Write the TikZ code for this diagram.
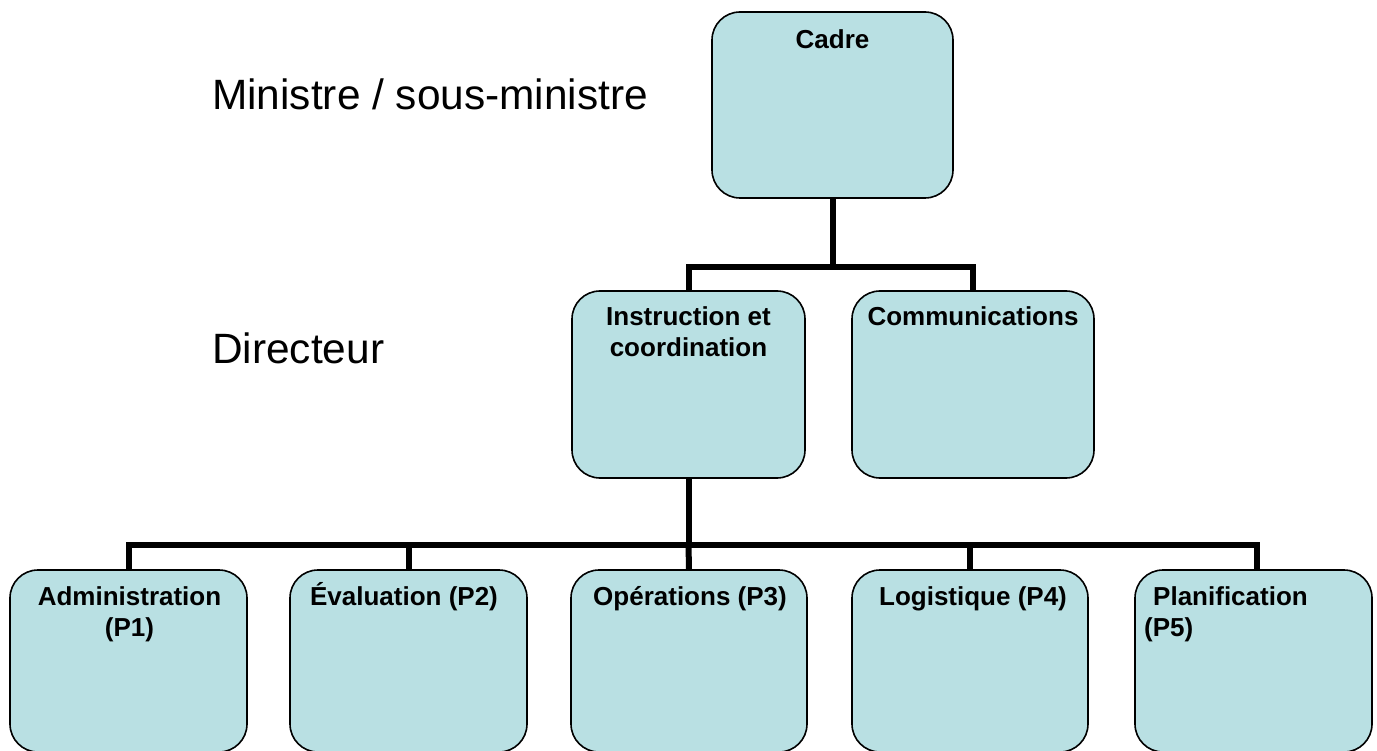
\documentclass[tikz,border=0pt]{standalone}
\usepackage{fontspec}
\setmainfont{Liberation Sans}
\definecolor{boxfill}{RGB}{185,224,227}
\begin{document}
\begin{tikzpicture}[x=1pt,y=-1pt,
  orgbox/.style={draw=black,line width=1.6pt,fill=boxfill,rounded corners=28pt,inner sep=0pt,rectangle},
  boxtext/.style={font=\bfseries\fontsize{26}{31}\selectfont,align=center,anchor=base,inner sep=0pt},
  leveltext/.style={font=\fontsize{42.4}{50}\selectfont,anchor=base west,inner sep=0pt},
  conn/.style={draw=black,line width=6pt}]
\useasboundingbox (0,0) rectangle (1377,751);
% boxes
\node[orgbox,minimum width=241pt,minimum height=186pt] (cadre) at (832.5,105) {};
\node[orgbox,minimum width=233pt,minimum height=187pt] (instr) at (688.5,384.5) {};
\node[orgbox,minimum width=242pt,minimum height=187pt] (comm) at (973,384.5) {};
\node[orgbox,minimum width=237pt,minimum height=182pt] (p1) at (128.5,661) {};
\node[orgbox,minimum width=237pt,minimum height=182pt] (p2) at (408.5,661) {};
\node[orgbox,minimum width=236pt,minimum height=182pt] (p3) at (689,661) {};
\node[orgbox,minimum width=236pt,minimum height=182pt] (p4) at (970,661) {};
\node[orgbox,minimum width=237pt,minimum height=182pt] (p5) at (1253.5,661) {};
% texts (multi-line nodes: base anchor is on the last line)
\node[boxtext] (tcadre) at (832.5,49) {Cadre};
\node[boxtext] (tinstr) at (688.5,357) {Instruction et\\coordination};
\node[boxtext] (tcomm) at (973,326) {Communications};
\node[boxtext] (tp1) at (129.5,636) {Administration\\(P1)};
\node[boxtext] (tp2) at (404,605) {Évaluation (P2)};
\node[boxtext] (tp3) at (690,605) {Opérations (P3)};
\node[boxtext] (tp4) at (973,605) {Logistique (P4)};
\node[boxtext,anchor=base west,align=left] (tp5) at (1144,636) {\hspace{9pt}Planification\\(P5)};
\node[leveltext] (lmin) at (212,110) {Ministre / sous-ministre};
\node[leveltext] (ldir) at (212,364) {Directeur};
% connectors
\coordinate (j1) at (832.5,267);
\coordinate (j2) at (688.5,545);
\draw[conn] (cadre.south) -- (j1);
\draw[conn] (j1) -| (instr.north);
\draw[conn] (j1) -| (comm.north);
\draw[conn] (instr.south) -- (j2);
\draw[conn] (j2) -| (p1.north);
\draw[conn] (j2) -| (p2.north);
\draw[conn] (j2) -- (p3.north);
\draw[conn] (j2) -| (p4.north);
\draw[conn] (j2) -| ([xshift=3.5pt]p5.north);
\end{tikzpicture}
\end{document}
